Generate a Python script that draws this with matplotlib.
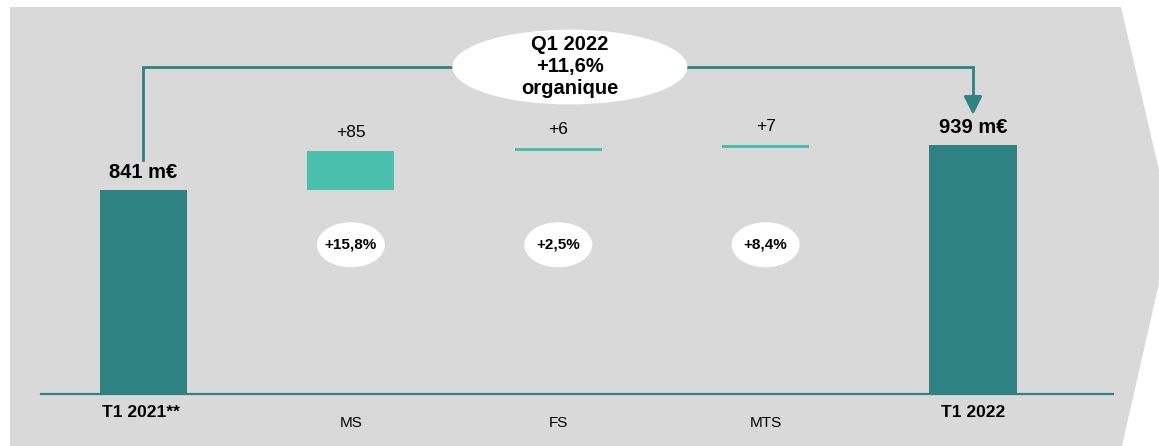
import matplotlib
matplotlib.use('Agg')
import matplotlib.pyplot as plt
from matplotlib.patches import Polygon, Ellipse

plt.rcParams.update({
    'font.family': ['Liberation Sans', 'DejaVu Sans'],
    'font.size': 10,
})

# data
categories = ['T1 2021**', 'MS', 'FS', 'MTS', 'T1 2022']
start_value = 841
deltas = [85, 6, 7]
end_value = 939
delta_labels = ['+85', '+6', '+7']
pct_labels = ['+15,8%', '+2,5%', '+8,4%']
total_labels = ['841 m€', '939 m€']
headline = 'Q1 2022\n+11,6%\norganique'

DARK = '#2e8382'
LIGHT = '#4abfac'
BG = '#d9d9d9'
FLOOR = 397  # broken axis: bars start from this value

fig = plt.figure(figsize=(11.59, 4.46), dpi=100)
W, H = 1159, 446

# chevron-shaped grey background, figure pixels
pts = [(10, 7), (1121, 7), (1172, 226), (1122, 446), (10, 446)]
poly = Polygon([(x / W, 1 - y / H) for x, y in pts], closed=True,
               transform=fig.transFigure, facecolor=BG, edgecolor='none', zorder=-5)
fig.add_artist(poly)

ax = fig.add_axes([41 / W, (H - 394) / H, 1072 / W, 394 / H])
ax.set_facecolor('none')
for s in ax.spines.values():
    s.set_visible(False)
ax.set_xticks([])
ax.set_yticks([])
ax.set_xlim(-0.494, 4.675)
ax.set_ylim(FLOOR, 1255)

xs = list(range(len(categories)))
bw = 0.42

# totals
ax.bar([xs[0], xs[-1]], [start_value, end_value], width=bw, color=DARK, zorder=2)
# deltas (floating)
bottoms = []
run = start_value
for d in deltas:
    bottoms.append(run)
    run += d
ax.bar(xs[1:4], deltas, bottom=bottoms, width=bw, color=LIGHT, zorder=2)

ax.axhline(FLOOR, color=DARK, lw=1.6, zorder=3, clip_on=False)

# value labels
for x, v, lab in zip([xs[0], xs[-1]], [start_value, end_value], total_labels):
    ax.annotate(lab, (x, v), xytext=(0, 12.5), textcoords='offset points',
                ha='center', va='center', fontsize=14.5, fontweight='bold')
for x, b, d, lab in zip(xs[1:4], bottoms, deltas, delta_labels):
    ax.annotate(lab, (x, b + d), xytext=(0, 13.5), textcoords='offset points',
                ha='center', va='center', fontsize=12.5)

# category labels
for i, (x, c) in enumerate(zip(xs, categories)):
    bold = i in (0, len(xs) - 1)
    ax.annotate(c, (x, 0), xycoords=('data', 'axes fraction'),
                xytext=(-2 if i == 0 else 0, -13 if bold else -21), textcoords='offset points',
                ha='center', va='center', fontsize=12.5 if bold else 11,
                fontweight='bold' if bold else 'normal')

# percentage bubbles
for x, lab in zip(xs[1:4], pct_labels):
    ax.add_patch(Ellipse((x, 722), 0.328, 98, facecolor='white', edgecolor='none', zorder=3))
    ax.text(x, 722, lab, ha='center', va='center', fontsize=11, fontweight='bold', zorder=4)

# connector line with arrow
top_y = 1109
ax.plot([xs[0], xs[0], xs[-1], xs[-1]], [907, top_y, top_y, 1040],
        color=DARK, lw=2, solid_joinstyle='miter', zorder=2, clip_on=False)
ax.annotate('', xy=(xs[-1], 1005), xytext=(xs[-1], 1045),
            arrowprops=dict(arrowstyle='-|>,head_length=1.1,head_width=0.55',
                            color=DARK, lw=2, shrinkA=0, shrinkB=0), zorder=3)

# headline bubble
ax.add_patch(Ellipse((2.056, top_y), 1.133, 163, facecolor='white', edgecolor='none', zorder=4))
ax.text(2.056, top_y + 2, headline, ha='center', va='center', fontsize=14.5,
        fontweight='bold', linespacing=1.2, zorder=5)

fig.savefig('out.png', dpi=100)
